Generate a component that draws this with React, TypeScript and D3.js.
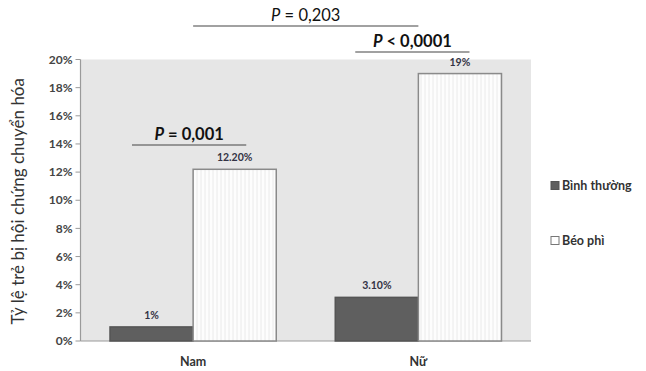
import * as d3 from "d3";

const categories = ["Nam", "Nữ"];
const seriesNames = ["Bình thường", "Béo phì"];
const binhThuong = [1, 3.1];
const beoPhi = [12.2, 19];
const valueLabels = [
  ["1%", "12.20%"],
  ["3.10%", "19%"],
];
const yTicks = [0, 2, 4, 6, 8, 10, 12, 14, 16, 18, 20];

const W = 646;
const H = 371;
const margin = { top: 59.5, right: 115, bottom: 30, left: 80.5 };
const font = "Lato, 'Liberation Sans', sans-serif";

export default function App() {
  const x0 = d3
    .scaleBand<string>()
    .domain(categories)
    .range([margin.left, W - margin.right])
    .paddingInner(0)
    .paddingOuter(0);
  const x1 = d3
    .scaleBand<string>()
    .domain(seriesNames)
    .range([0, x0.bandwidth()])
    .paddingOuter(0.355);
  const y = d3.scaleLinear().domain([0, 20]).range([H - margin.bottom, margin.top]);

  const series = [binhThuong, beoPhi];

  // center of a bar
  const cx = (ci: number, si: number) =>
    (x0(categories[ci]) || 0) + (x1(seriesNames[si]) || 0) + x1.bandwidth() / 2;
  const barL = (ci: number, si: number) => (x0(categories[ci]) || 0) + (x1(seriesNames[si]) || 0);

  const brackets = [
    { text: "P = 0,203", x1: barL(0, 1), x2: barL(1, 1), y: 26, bold: false },
    { text: "P < 0,0001", x1: barL(1, 0) + 20, x2: barL(1, 1) + x1.bandwidth() - 32, y: 52, bold: true },
    { text: "P = 0,001", x1: barL(0, 0) + 22, x2: barL(0, 1) + x1.bandwidth() - 30, y: 145, bold: true },
  ];

  return (
    <svg width={W} height={H} style={{ position: "absolute", left: 0, top: 0 }}>
      <defs>
        <pattern id="stripes" width="4" height="4" patternUnits="userSpaceOnUse">
          <rect width="4" height="4" fill="#fdfdfd" />
          <line x1="1" y1="0" x2="1" y2="4" stroke="#e4e4e4" strokeWidth="0.8" />
        </pattern>
      </defs>
      <rect width={W} height={H} fill="#fff" />
      <rect
        x={margin.left}
        y={margin.top}
        width={W - margin.right - margin.left}
        height={H - margin.bottom - margin.top}
        fill="#e6e6e6"
      />
      {/* axes */}
      <line x1={margin.left} x2={margin.left} y1={margin.top} y2={y(0)} stroke="#9a9a9a" strokeWidth={1.2} />
      <line x1={margin.left} x2={W - margin.right} y1={y(0)} y2={y(0)} stroke="#9a9a9a" strokeWidth={1.2} />
      {yTicks.map((t) => (
        <g key={t}>
          <line x1={margin.left - 5} x2={margin.left} y1={y(t)} y2={y(t)} stroke="#9a9a9a" />
          <text
            x={margin.left - 8}
            y={y(t)}
            dy="0.35em"
            textAnchor="end"
            fontFamily={font}
            fontSize={12}
            fontWeight={700}
            fill="#444"
          >
            {t}%
          </text>
        </g>
      ))}
      <text
        transform={`translate(24,${(margin.top + y(0)) / 2 + 1}) rotate(-90)`}
        textAnchor="middle"
        fontFamily={font}
        fontSize={17}
        fill="#333"
      >
        Tỷ lệ trẻ bị hội chứng chuyển hóa
      </text>
      {/* bars */}
      {categories.map((c, ci) =>
        series.map((s, si) => (
          <rect
            key={c + si}
            x={barL(ci, si)}
            y={y(s[ci])}
            width={x1.bandwidth()}
            height={y(0) - y(s[ci])}
            fill={si === 0 ? "#5f5f5f" : "url(#stripes)"}
            stroke={si === 0 ? "#555" : "#8a8a8a"}
            strokeWidth={1.5}
          />
        ))
      )}
      {categories.map((c, ci) =>
        series.map((s, si) => (
          <text
            key={"l" + c + si}
            x={cx(ci, si)}
            y={y(s[ci]) - 8}
            textAnchor="middle"
            fontFamily={font}
            fontSize={10.5}
            fontWeight={700}
            fill="#333344"
          >
            {valueLabels[ci][si]}
          </text>
        ))
      )}
      {categories.map((c) => (
        <text
          key={c}
          x={(x0(c) || 0) + x0.bandwidth() / 2}
          y={H - 5}
          textAnchor="middle"
          fontFamily={font}
          fontSize={12.5}
          fontWeight={700}
          fill="#333"
        >
          {c}
        </text>
      ))}
      {/* significance brackets */}
      {brackets.map((b) => (
        <g key={b.text}>
          <line x1={b.x1} x2={b.x2} y1={b.y} y2={b.y} stroke="#444" strokeWidth={1.2} />
          <text
            x={(b.x1 + b.x2) / 2}
            y={b.y - 5}
            textAnchor="middle"
            fontFamily={font}
            fontSize={16.5}
            fontWeight={b.bold ? 700 : 400}
            fill="#111"
          >
            <tspan fontStyle="italic">P</tspan>
            {b.text.slice(1)}
          </text>
        </g>
      ))}
      {/* legend */}
      {seriesNames.map((n, i) => (
        <g key={n} transform={`translate(551,${186 + i * 55})`}>
          <rect
            x={0}
            y={-4.5}
            width={8}
            height={8}
            fill={i === 0 ? "#5f5f5f" : "#fff"}
            stroke={i === 0 ? "#555" : "#777"}
          />
          <text x={11} y={0} dy="0.35em" fontFamily={font} fontSize={12.5} fontWeight={700} fill="#333">
            {n}
          </text>
        </g>
      ))}
    </svg>
  );
}
